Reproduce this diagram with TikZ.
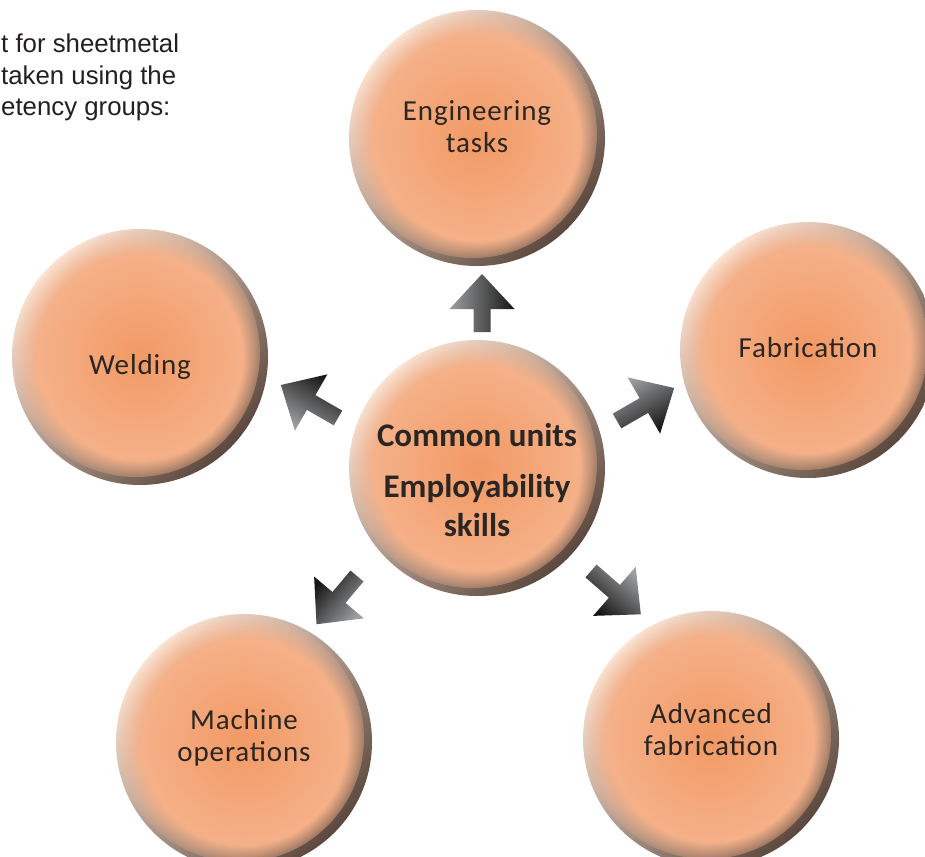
\documentclass[tikz,border=0pt]{standalone}
\usepackage{fontspec}
\setmainfont{Carlito}
\newfontfamily\bodyfont{Liberation Sans}
\newfontfamily\bubblefont[LetterSpace=3]{Carlito}
\usetikzlibrary{fadings}
\definecolor{rimlight}{HTML}{FCE4D4}
\definecolor{rimmid}{HTML}{F4AC82}
\definecolor{rimdark}{HTML}{5C483E}
\definecolor{facein}{HTML}{F29965}
\definecolor{faceout}{HTML}{F6B690}
\definecolor{txt}{HTML}{2A2623}
\definecolor{bodytxt}{HTML}{231F20}
\definecolor{arrlight}{HTML}{9E9FA1}
\definecolor{arrmid}{HTML}{2E2F31}
\definecolor{arrdark}{HTML}{151515}
\newcommand\blockarrow[4]{%
  \shade[top color=arrlight, middle color=arrmid, bottom color=arrdark, shading angle=#3,
         shift={(#1,#2)}, rotate=#3]
    (0,-8.5) -- ({#4-35},-8.5) -- ({#4-35},-32.5) -- (#4,0) -- ({#4-35},32.5) -- ({#4-35},8.5) -- (0,8.5) -- cycle;}
\begin{document}
\begin{tikzpicture}[x=1pt,y=-1pt,
  bubble/.style={circle, minimum size=256pt, inner sep=0pt, align=center, text=txt,
    font=\bubblefont\fontsize{29}{32}\selectfont,
    top color=rimlight, middle color=rimmid, bottom color=rimdark, shading angle=45,
    path picture={\shade[inner color=facein, outer color=faceout,
      path fading=circle with fuzzy edge 20 percent]
      ([shift={(-4,-4)}]path picture bounding box.center) circle (124pt);}},
  hubtext/.style={font=\fontsize{33}{39}\selectfont\bfseries}
]
\useasboundingbox (0,0) rectangle (925,856);
\clip (0,0) rectangle (925,856);

\node[anchor=north west, inner sep=0pt, align=left, text=bodytxt,
      font=\bodyfont\fontsize{25.8}{31.5}\selectfont] (intro) at (1,34)
  {t for sheetmetal\\taken using the\\etency groups:};

\node[bubble] (eng) at (477,138) {Engineering\\tasks\rule[-22pt]{0pt}{0pt}};
\node[bubble] (fab) at (808,350) {Fabrication\rule[-6pt]{0pt}{0pt}};
\node[bubble] (weld) at (140,357) {\rule{0pt}{39pt}Welding};
\node[bubble, hubtext] (hub) at (477,468) {\rule{0pt}{48pt}Common units\\[12pt]Employability\\skills};
\node[bubble] (mach) at (244,742) {Machine\\operations\rule[-14pt]{0pt}{0pt}};
\node[bubble] (adv) at (711,739) {Advanced\\fabrication\rule[-20pt]{0pt}{0pt}};

\blockarrow{482}{332}{90}{58}
\blockarrow{338}{418}{150}{66}
\blockarrow{617}{421}{30}{66}
\blockarrow{357}{576}{230}{63}
\blockarrow{591}{571}{319}{66}
\end{tikzpicture}
\end{document}
